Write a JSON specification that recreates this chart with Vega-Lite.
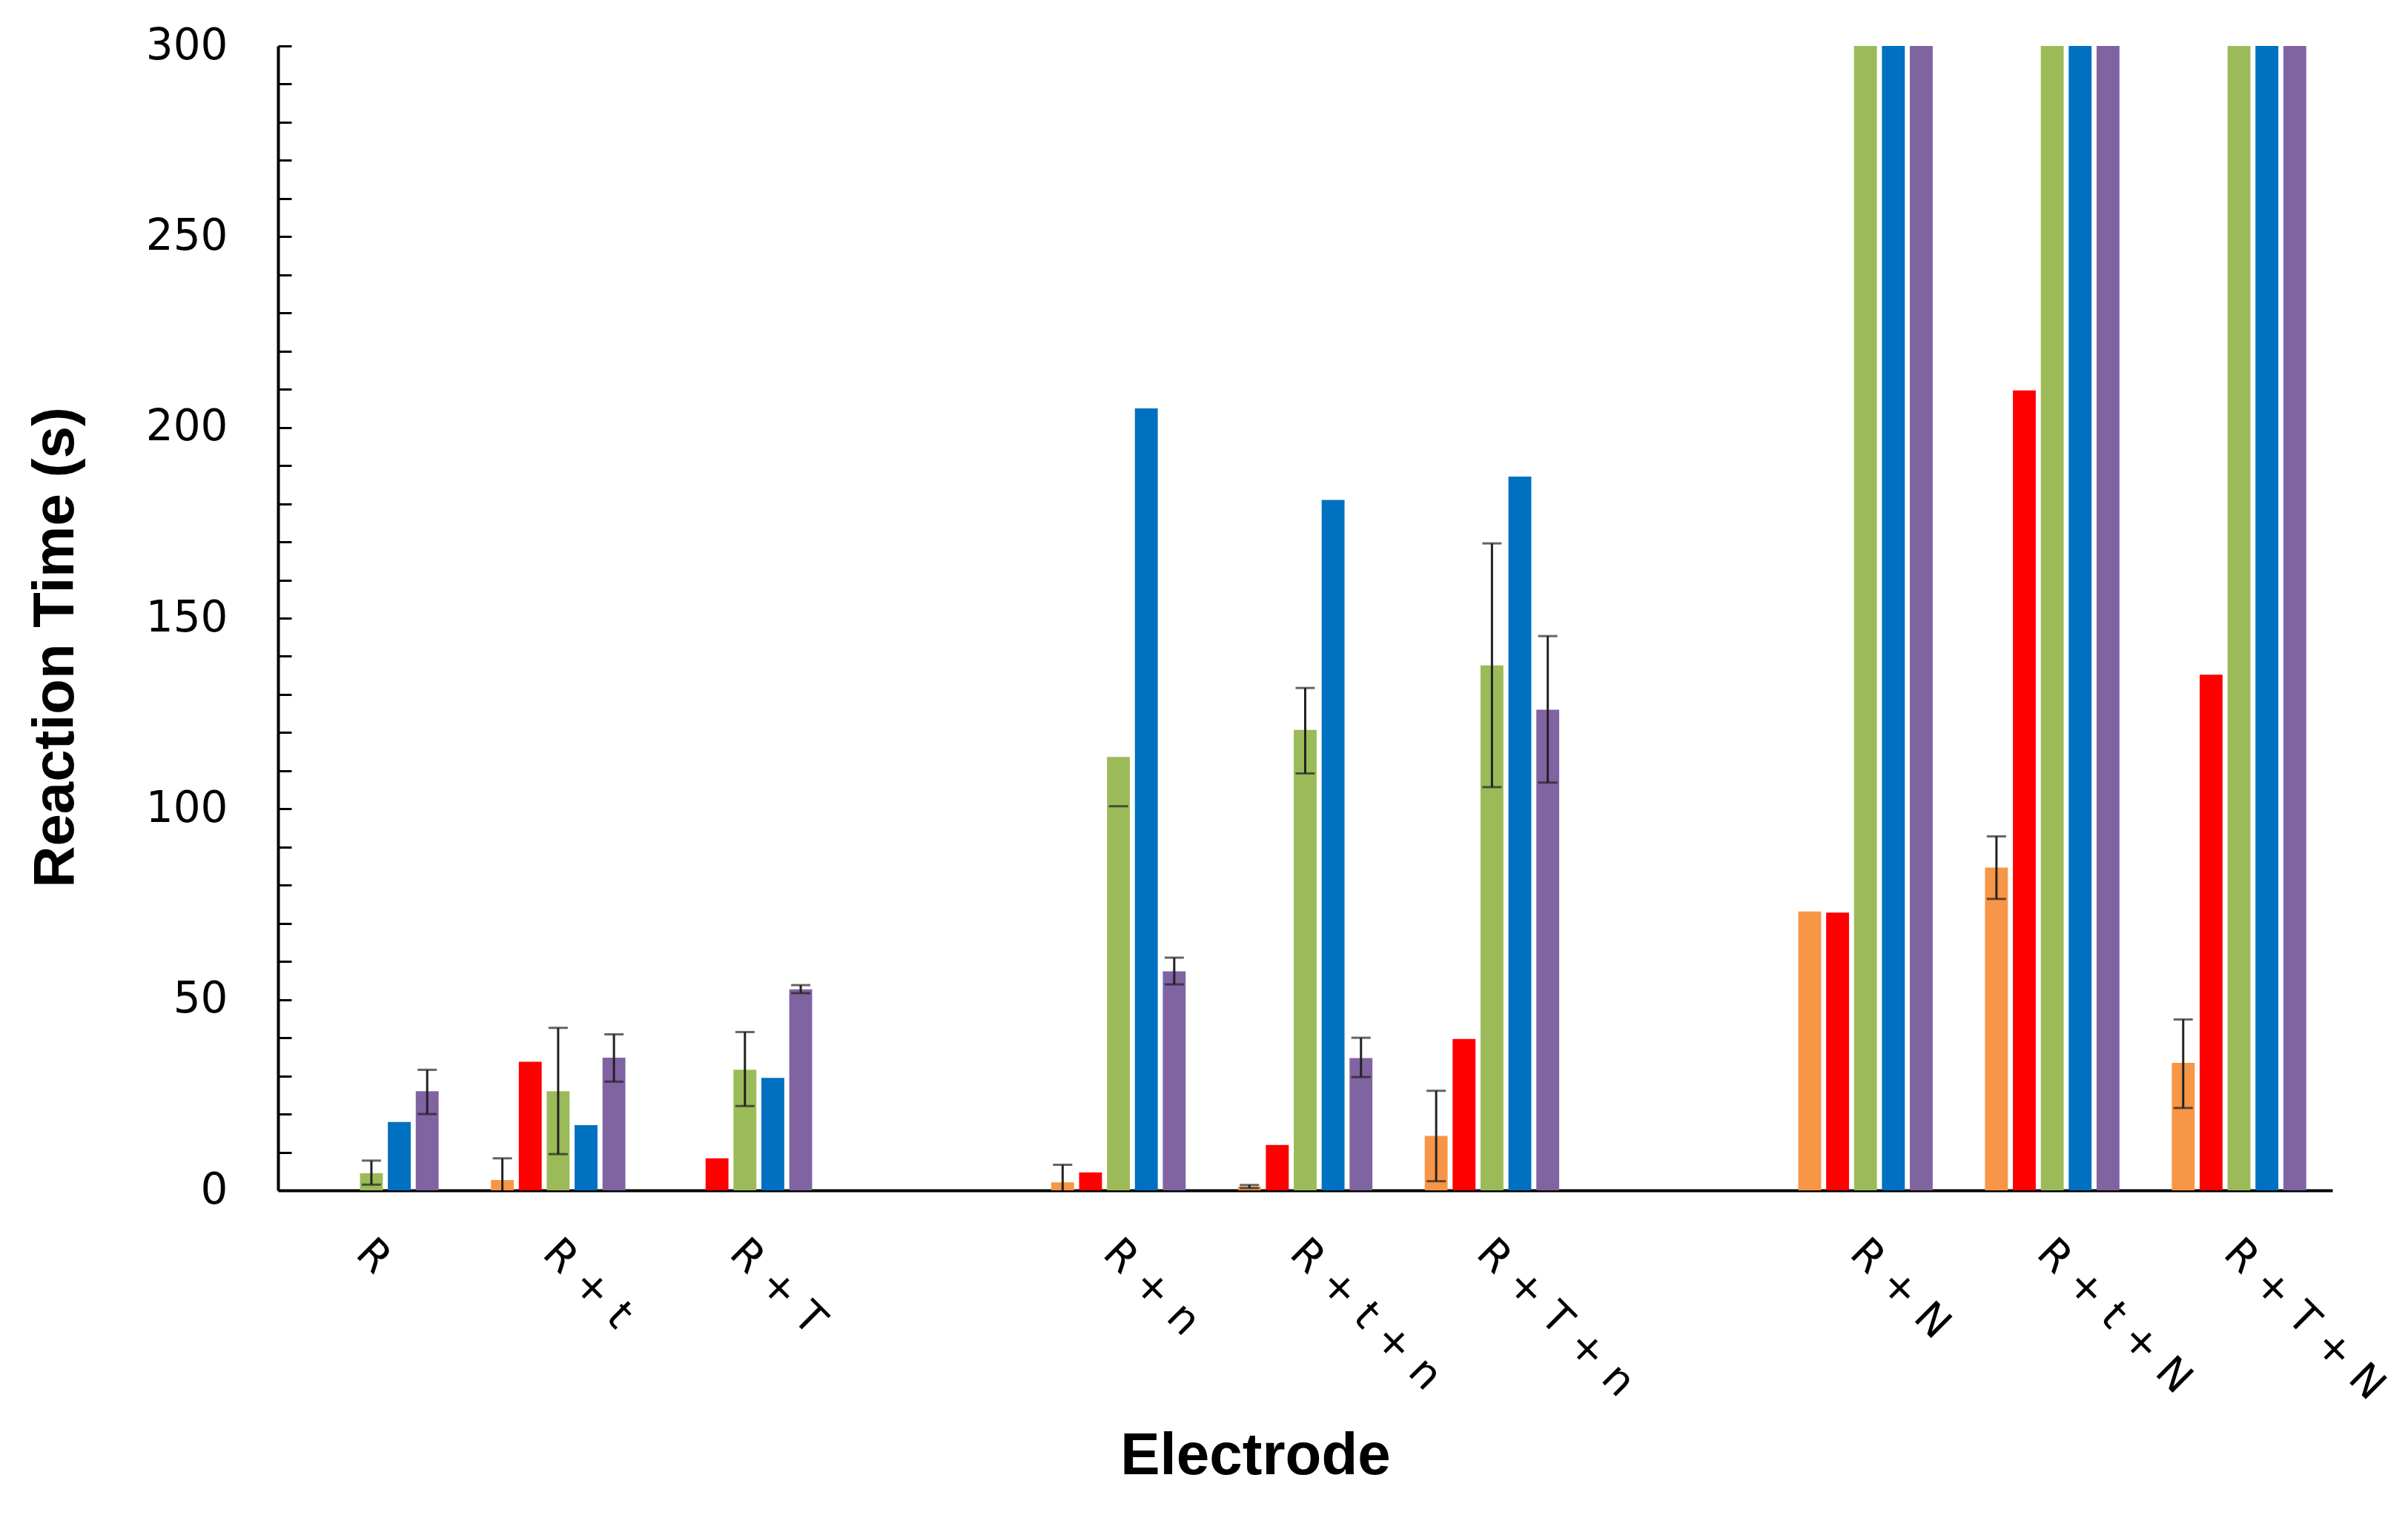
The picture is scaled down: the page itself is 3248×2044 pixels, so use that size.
{
  "$schema": "https://vega.github.io/schema/vega-lite/v6.json",
  "autosize": {"type": "none"},
  "width": 2771,
  "height": 1544,
  "padding": {"left": 375, "top": 62, "right": 102, "bottom": 438},
  "background": "white",
  "config": {
    "view": {"stroke": null},
    "axis": {"labelColor": "#000", "titleColor": "#000", "domainColor": "#000", "tickColor": "#000"}
  },
  "data": {
    "values": [
      {"electrode": "R", "series": "S3", "value": 4.5, "lo": 1.5, "hi": 7.8},
      {"electrode": "R", "series": "S4", "value": 17.9},
      {"electrode": "R", "series": "S5", "value": 26, "lo": 20, "hi": 31.6},
      {"electrode": "R + t", "series": "S1", "value": 2.7, "lo": 0, "hi": 8.4},
      {"electrode": "R + t", "series": "S2", "value": 33.7},
      {"electrode": "R + t", "series": "S3", "value": 26, "lo": 9.5, "hi": 42.6},
      {"electrode": "R + t", "series": "S4", "value": 17.1},
      {"electrode": "R + t", "series": "S5", "value": 34.8, "lo": 28.5, "hi": 40.9},
      {"electrode": "R + T", "series": "S2", "value": 8.4},
      {"electrode": "R + T", "series": "S3", "value": 31.6, "lo": 22.1, "hi": 41.5},
      {"electrode": "R + T", "series": "S4", "value": 29.5},
      {"electrode": "R + T", "series": "S5", "value": 52.7, "lo": 51.7, "hi": 53.8},
      {"electrode": "R + n", "series": "S1", "value": 2.1, "lo": 0, "hi": 6.7},
      {"electrode": "R + n", "series": "S2", "value": 4.7},
      {"electrode": "R + n", "series": "S3", "value": 113.6, "lo": 100.7},
      {"electrode": "R + n", "series": "S4", "value": 205},
      {"electrode": "R + n", "series": "S5", "value": 57.4, "lo": 54, "hi": 61},
      {"electrode": "R + t + n", "series": "S1", "value": 1, "lo": 0.6, "hi": 1.4},
      {"electrode": "R + t + n", "series": "S2", "value": 11.9},
      {"electrode": "R + t + n", "series": "S3", "value": 120.7, "lo": 109.3, "hi": 131.7},
      {"electrode": "R + t + n", "series": "S4", "value": 181},
      {"electrode": "R + t + n", "series": "S5", "value": 34.7, "lo": 29.7, "hi": 40},
      {"electrode": "R + T + n", "series": "S1", "value": 14.3, "lo": 2.4, "hi": 26.1},
      {"electrode": "R + T + n", "series": "S2", "value": 39.7},
      {"electrode": "R + T + n", "series": "S3", "value": 137.6, "lo": 105.7, "hi": 169.6},
      {"electrode": "R + T + n", "series": "S4", "value": 187.1},
      {"electrode": "R + T + n", "series": "S5", "value": 126, "lo": 106.9, "hi": 145.3},
      {"electrode": "R + N", "series": "S1", "value": 73.1},
      {"electrode": "R + N", "series": "S2", "value": 72.8},
      {"electrode": "R + N", "series": "S3", "value": 300},
      {"electrode": "R + N", "series": "S4", "value": 300},
      {"electrode": "R + N", "series": "S5", "value": 300},
      {"electrode": "R + t + N", "series": "S1", "value": 84.6, "lo": 76.4, "hi": 92.8},
      {"electrode": "R + t + N", "series": "S2", "value": 209.7},
      {"electrode": "R + t + N", "series": "S3", "value": 300},
      {"electrode": "R + t + N", "series": "S4", "value": 300},
      {"electrode": "R + t + N", "series": "S5", "value": 300},
      {"electrode": "R + T + N", "series": "S1", "value": 33.4, "lo": 21.6, "hi": 44.8},
      {"electrode": "R + T + N", "series": "S2", "value": 135.2},
      {"electrode": "R + T + N", "series": "S3", "value": 300},
      {"electrode": "R + T + N", "series": "S4", "value": 300},
      {"electrode": "R + T + N", "series": "S5", "value": 300}
    ]
  },
  "encoding": {
    "x": {
      "field": "electrode",
      "type": "nominal",
      "scale": {
        "domain": ["R", "R + t", "R + T", "gap1", "R + n", "R + t + n", "R + T + n", "gap2", "R + N", "R + t + N", "R + T + N"],
        "paddingInner": 0.28,
        "paddingOuter": 0.14
      },
      "axis": {
        "title": "Electrode",
        "titleFont": "Liberation Sans",
        "titleFontSize": 80,
        "titleFontWeight": "bold",
        "titleX": 1318,
        "titleY": 358,
        "titleBaseline": "middle",
        "labelExpr": "indexof(datum.value, 'gap') == 0 ? '' : datum.value",
        "labelAngle": 45,
        "labelAlign": "left",
        "labelBaseline": "top",
        "labelFont": "DejaVu Sans",
        "labelFontSize": 56,
        "labelPadding": 56,
        "labelOffset": 8,
        "labelLimit": 0,
        "ticks": false,
        "domainWidth": 4,
        "labelOverlap": false
      }
    },
    "xOffset": {
      "field": "series",
      "type": "nominal",
      "scale": {"domain": ["S1", "S2", "S3", "S4", "S5"], "paddingInner": 0.18, "paddingOuter": 0}
    }
  },
  "layer": [
    {
      "mark": {"type": "bar", "clip": true},
      "encoding": {
        "y": {
          "field": "value",
          "type": "quantitative",
          "scale": {"domain": [0, 300], "nice": false},
          "axis": {
            "title": "Reaction Time (s)",
            "titleFont": "Liberation Sans",
            "titleFontSize": 78,
            "titleFontWeight": "bold",
            "titleAngle": -90,
            "titleX": -300,
            "titleY": 811,
            "titleBaseline": "middle",
            "titleAlign": "center",
            "values": [0, 10, 20, 30, 40, 50, 60, 70, 80, 90, 100, 110, 120, 130, 140, 150, 160, 170, 180, 190, 200, 210, 220, 230, 240, 250, 260, 270, 280, 290, 300],
            "labelExpr": "datum.value % 50 == 0 ? datum.label : ''",
            "labelFont": "DejaVu Sans",
            "labelFontSize": 58,
            "labelPadding": 86,
            "tickSize": -18,
            "tickWidth": 3,
            "domainWidth": 4,
            "grid": false,
            "labelOverlap": false
          }
        },
        "color": {
          "field": "series",
          "type": "nominal",
          "scale": {"domain": ["S1", "S2", "S3", "S4", "S5"], "range": ["#F79646", "#FF0000", "#9BBB59", "#0070C0", "#8064A2"]},
          "legend": null
        }
      }
    },
    {
      "transform": [{"filter": "isValid(datum.lo) && isValid(datum.hi)"}],
      "mark": {"type": "rule", "color": "#222", "strokeWidth": 3},
      "encoding": {
        "y": {"field": "lo", "type": "quantitative"},
        "y2": {"field": "hi"}
      }
    },
    {
      "transform": [{"filter": "isValid(datum.lo) && datum.lo > 0"}],
      "mark": {"type": "tick", "color": "#222", "thickness": 3, "size": 26},
      "encoding": {
        "y": {"field": "lo", "type": "quantitative"}
      }
    },
    {
      "transform": [{"filter": "isValid(datum.hi)"}],
      "mark": {"type": "tick", "color": "#222", "thickness": 3, "size": 26},
      "encoding": {
        "y": {"field": "hi", "type": "quantitative"}
      }
    }
  ]
}
